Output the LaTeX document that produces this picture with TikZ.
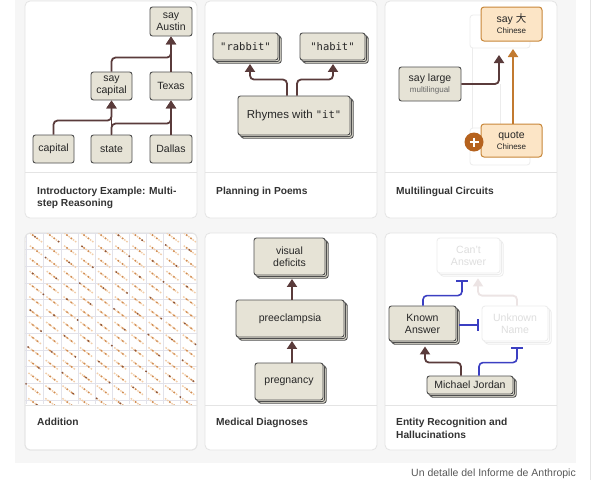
\documentclass[tikz,border=0pt]{standalone}
\usepackage{fontspec}
\setmainfont{Liberation Sans}
\setmonofont{DejaVu Sans Mono}
\newfontfamily\cjk{Noto Sans CJK SC}
\usetikzlibrary{arrows.meta,shadows,calc}
\definecolor{bgc}{HTML}{F6F6F6}
\definecolor{cardline}{HTML}{E4E4E4}
\definecolor{boxfill}{HTML}{E6E3D6}
\definecolor{boxdraw}{HTML}{4E4E4E}
\definecolor{connc}{HTML}{5A3B3B}
\definecolor{ofill}{HTML}{FCE5C6}
\definecolor{odraw}{HTML}{C8873A}
\definecolor{oconn}{HTML}{C27A30}
\definecolor{plusc}{HTML}{B5621E}
\definecolor{inhib}{HTML}{3B3FC2}
\definecolor{ghost}{HTML}{ECECEC}
\definecolor{ghosttext}{HTML}{DEDEDE}
\definecolor{faintc}{HTML}{ECE4E4}
\definecolor{captc}{HTML}{333333}
\definecolor{gridc}{HTML}{E2E2EA}
\definecolor{dotA}{HTML}{F2CDA8}
\definecolor{dotB}{HTML}{D08C52}
\definecolor{dotC}{HTML}{7E4124}
\tikzset{
  card/.style={draw=cardline, fill=white, line width=0.8pt, rounded corners=5pt},
  sepline/.style={draw=cardline, line width=0.8pt},
  bx/.style={draw=boxdraw, fill=boxfill, line width=0.9pt, rounded corners=2.5pt,
    align=center, inner sep=0pt, text=black!85, font=\fontsize{10.5}{12}\selectfont},
  stk/.style={bx, double copy shadow={shadow xshift=1.6pt, shadow yshift=-1.6pt}},
  obx/.style={draw=odraw, fill=ofill, line width=1pt, rounded corners=3pt,
    align=center, inner sep=0pt, text=black!85, font=\fontsize{10.5}{12}\selectfont},
  ghostbox/.style={draw=ghost, fill=white, line width=0.8pt, rounded corners=3pt,
    inner sep=0pt, align=center, text=ghosttext, font=\fontsize{10.5}{12}\selectfont},
  gstk/.style={ghostbox, double copy shadow={shadow xshift=1.6pt, shadow yshift=-1.6pt}},
  conn/.style={draw=connc, line width=1.8pt, rounded corners=4pt},
  oc/.style={draw=oconn, line width=1.8pt},
  faint/.style={draw=faintc, line width=1.8pt, rounded corners=4pt},
  arr/.style={-{Triangle[width=10pt,length=8pt]}},
  inh/.style={draw=inhib, line width=1.6pt, rounded corners=4pt, -{Bar[width=12pt]}},
  captext/.style={anchor=base west, inner sep=0pt, text=captc, font=\bfseries\fontsize{10.2}{12}\selectfont},
  gridl/.style={draw=gridc, line width=0.7pt},
  dl/.style={line width=1.4pt},
}
\begin{document}
\begin{tikzpicture}[x=1pt,y=-1pt]
\useasboundingbox (0,0) rectangle (597,480);
\fill[white] (0,0) rectangle (597,480);
\fill[bgc] (15,0) rectangle (576,463);
\draw[cardline] (590,0) -- (590,480);
% cards
\foreach \x in {25,205,385}{
  \draw[card] (\x,1) rectangle ++(172,217);
  \draw[card] (\x,233) rectangle ++(172,217);
  \draw[sepline] (\x,172) -- ++(172,0);
  \draw[sepline] (\x,405) -- ++(172,0);
}
% ---------- panel 1
\node[bx, minimum width=42pt, minimum height=29pt] (sayaustin) at (171,21.5) {say\\Austin};
\node[bx, minimum width=41pt, minimum height=28pt] (saycap) at (111.5,86) {say\\capital};
\node[bx, minimum width=42pt, minimum height=28pt] (texas) at (171,86) {Texas};
\node[bx, minimum width=41pt, minimum height=28pt] (capital) at (53.5,149) {capital};
\node[bx, minimum width=41pt, minimum height=28pt] (state) at (111.5,149) {state};
\node[bx, minimum width=42pt, minimum height=28pt] (dallas) at (171,149) {Dallas};
\draw[conn,arr] (capital.north) -- ++(0,-14) -| (saycap.south);
\draw[conn,arr] (state.north) -- ++(0,-11) -| (texas.south);
\draw[conn,arr] (state.north) -- (saycap.south);
\draw[conn,arr] (dallas.north) -- (texas.south);
\draw[conn,arr] (saycap.north) -- ++(0,-14) -| (sayaustin.south);
\draw[conn,arr] (texas.north) -- (sayaustin.south);
\node[captext] at (37,194) {Introductory Example: Multi-};
\node[captext] at (37,206.5) {step Reasoning};
% ---------- panel 2
\node[stk, minimum width=65pt, minimum height=27pt, font=\ttfamily\fontsize{10.5}{12}\selectfont] (rabbit) at (245.5,46.5) {"rabbit"};
\node[stk, minimum width=65pt, minimum height=27pt, font=\ttfamily\fontsize{10.5}{12}\selectfont] (habit) at (332.5,46.5) {"habit"};
\node[stk, minimum width=112pt, minimum height=39pt, font=\fontsize{11.5}{13}\selectfont] (rhymes) at (294,115.5) {Rhymes with {\ttfamily\fontsize{10.5}{12}\selectfont"it"}};
\draw[conn,arr] ($(rhymes.north)+(-7,0)$) -- ++(0,-16) -| ($(rabbit.south)+(4.5,3.5)$);
\draw[conn,arr] ($(rhymes.north)+(3,0)$) -- ++(0,-16) -| ($(habit.south)+(0.5,3.5)$);
\node[captext] at (216,194) {Planning in Poems};
% ---------- panel 3
\draw[ghost, line width=1pt] (472,48) -- (472,128);
\draw[ghost, line width=1pt] (500,84) -- (500,128);
\node[ghostbox, minimum width=60pt, minimum height=33pt] (gh1) at (500,31.5) {};
\node[ghostbox, minimum width=60pt, minimum height=37pt] (gh2) at (500,146.5) {};
\node[obx, minimum width=61pt, minimum height=34pt] (sayda) at (511.5,24) {say {\cjk 大}\\[-1pt]{\fontsize{8}{9}\selectfont Chinese}};
\node[bx, minimum width=62pt, minimum height=34pt] (saylarge) at (430,84) {say large\\[-1pt]{\fontsize{8}{9}\selectfont\color{black!60}multilingual}};
\node[obx, minimum width=61pt, minimum height=33pt] (quote) at (511.5,140.5) {quote\\[-1pt]{\fontsize{8}{9}\selectfont Chinese}};
\node[circle, fill=plusc, minimum size=19pt, inner sep=0pt] (plus) at (474,142) {};
\draw[white, line width=1.6pt] ($(plus.center)+(-4.5,0)$) -- ($(plus.center)+(4.5,0)$);
\draw[white, line width=1.6pt] ($(plus.center)+(0,-4.5)$) -- ($(plus.center)+(0,4.5)$);
\coordinate (t1) at (499,55);
\coordinate (t2) at (513,49);
\draw[conn,arr] (saylarge.east) -| (t1);
\draw[oc,arr] ($(quote.north)+(1.5,0)$) -- (t2);
\node[captext] at (396,194) {Multilingual Circuits};
% ---------- panel 4
\begin{scope}
  \clip[rounded corners=5pt] (25,233) rectangle (197,440);
  \clip (0,0) rectangle (597,404);
  \foreach \k in {0,...,10}{
    \draw[gridl] (26.7+\k*17.1,233) -- (26.7+\k*17.1,404);
    \draw[gridl] (25,233+\k*16.7) -- (197,233+\k*16.7);
  }
  \foreach \i in {-14,...,10}{
    \draw[dl, dotA, dash pattern=on 1.6pt off 1.1pt on 1.6pt off 1.1pt on 1.6pt off 1.1pt on 1.6pt off 1.1pt on 1.6pt off 1.1pt on 1.6pt off 6.1pt] (30+\i*17.1,233) -- ++(240,180);
    \draw[dl, dotB, dash pattern=on 1.6pt off 3.8pt on 1.6pt off 14.4pt, dash phase=-2.7pt] (30+\i*17.1,233) -- ++(240,180);
    \draw[dl, dotC!90, dash pattern=on 1.6pt off 41.2pt, dash phase=-\i*8.1pt-5.4pt] (30+\i*17.1,233) -- ++(240,180);
  }
\end{scope}
\draw[cardline, line width=0.8pt, rounded corners=5pt] (25,233) rectangle ++(172,217);
\draw[sepline] (25,405) -- ++(172,0);
\node[captext] at (37,425.5) {Addition};
% ---------- panel 5
\node[stk, minimum width=71pt, minimum height=37pt] (vis) at (289.5,256.5) {visual\\deficits};
\node[stk, minimum width=108pt, minimum height=37pt] (pre) at (290,318.5) {preeclampsia};
\node[stk, minimum width=68pt, minimum height=37pt] (preg) at (289,381.5) {pregnancy};
\draw[conn,arr] ($(pre.north)+(2,0)$) -- ($(vis.south)+(2.5,3.5)$);
\draw[conn,arr] ($(preg.north)+(3,0)$) -- ($(pre.south)+(2,3.5)$);
\node[captext] at (216,425.5) {Medical Diagnoses};
% ---------- panel 6
\node[gstk, minimum width=63pt, minimum height=35pt] (cant) at (468.5,255.5) {Can't\\Answer};
\node[stk, minimum width=67pt, minimum height=35pt] (known) at (422.5,323.5) {Known\\Answer};
\node[gstk, minimum width=66pt, minimum height=35pt] (unk) at (515,323.5) {Unknown\\Name};
\node[stk, minimum width=86pt, minimum height=18pt] (mj) at (470,385) {Michael Jordan};
\draw[faint,arr] ($(unk.north)+(2,0)$) -- ++(0,-10) -| ($(cant.south)+(9.5,5)$);
\draw[inh] ($(known.north)+(0.5,0)$) -- ++(0,-10) -| ($(cant.south)+(-6.5,7)$);
\draw[inh] ($(known.east)+(3,1.5)$) -- ($(unk.west)+(-3,1.5)$);
\draw[conn,arr] ($(mj.north)+(-9,0)$) -- ++(0,-13) -| ($(known.south)+(2.5,5)$);
\draw[inh] ($(mj.north)+(9,0)$) -- ++(0,-13) -| ($(unk.south)+(2,6)$);
\node[captext] at (396,425.5) {Entity Recognition and};
\node[captext] at (396,438) {Hallucinations};
% ---------- source
\node[anchor=base east, inner sep=0pt, text=black!65, font=\fontsize{10.5}{12}\selectfont] (src) at (576,476) {Un detalle del Informe de Anthropic};
\end{tikzpicture}
\end{document}
